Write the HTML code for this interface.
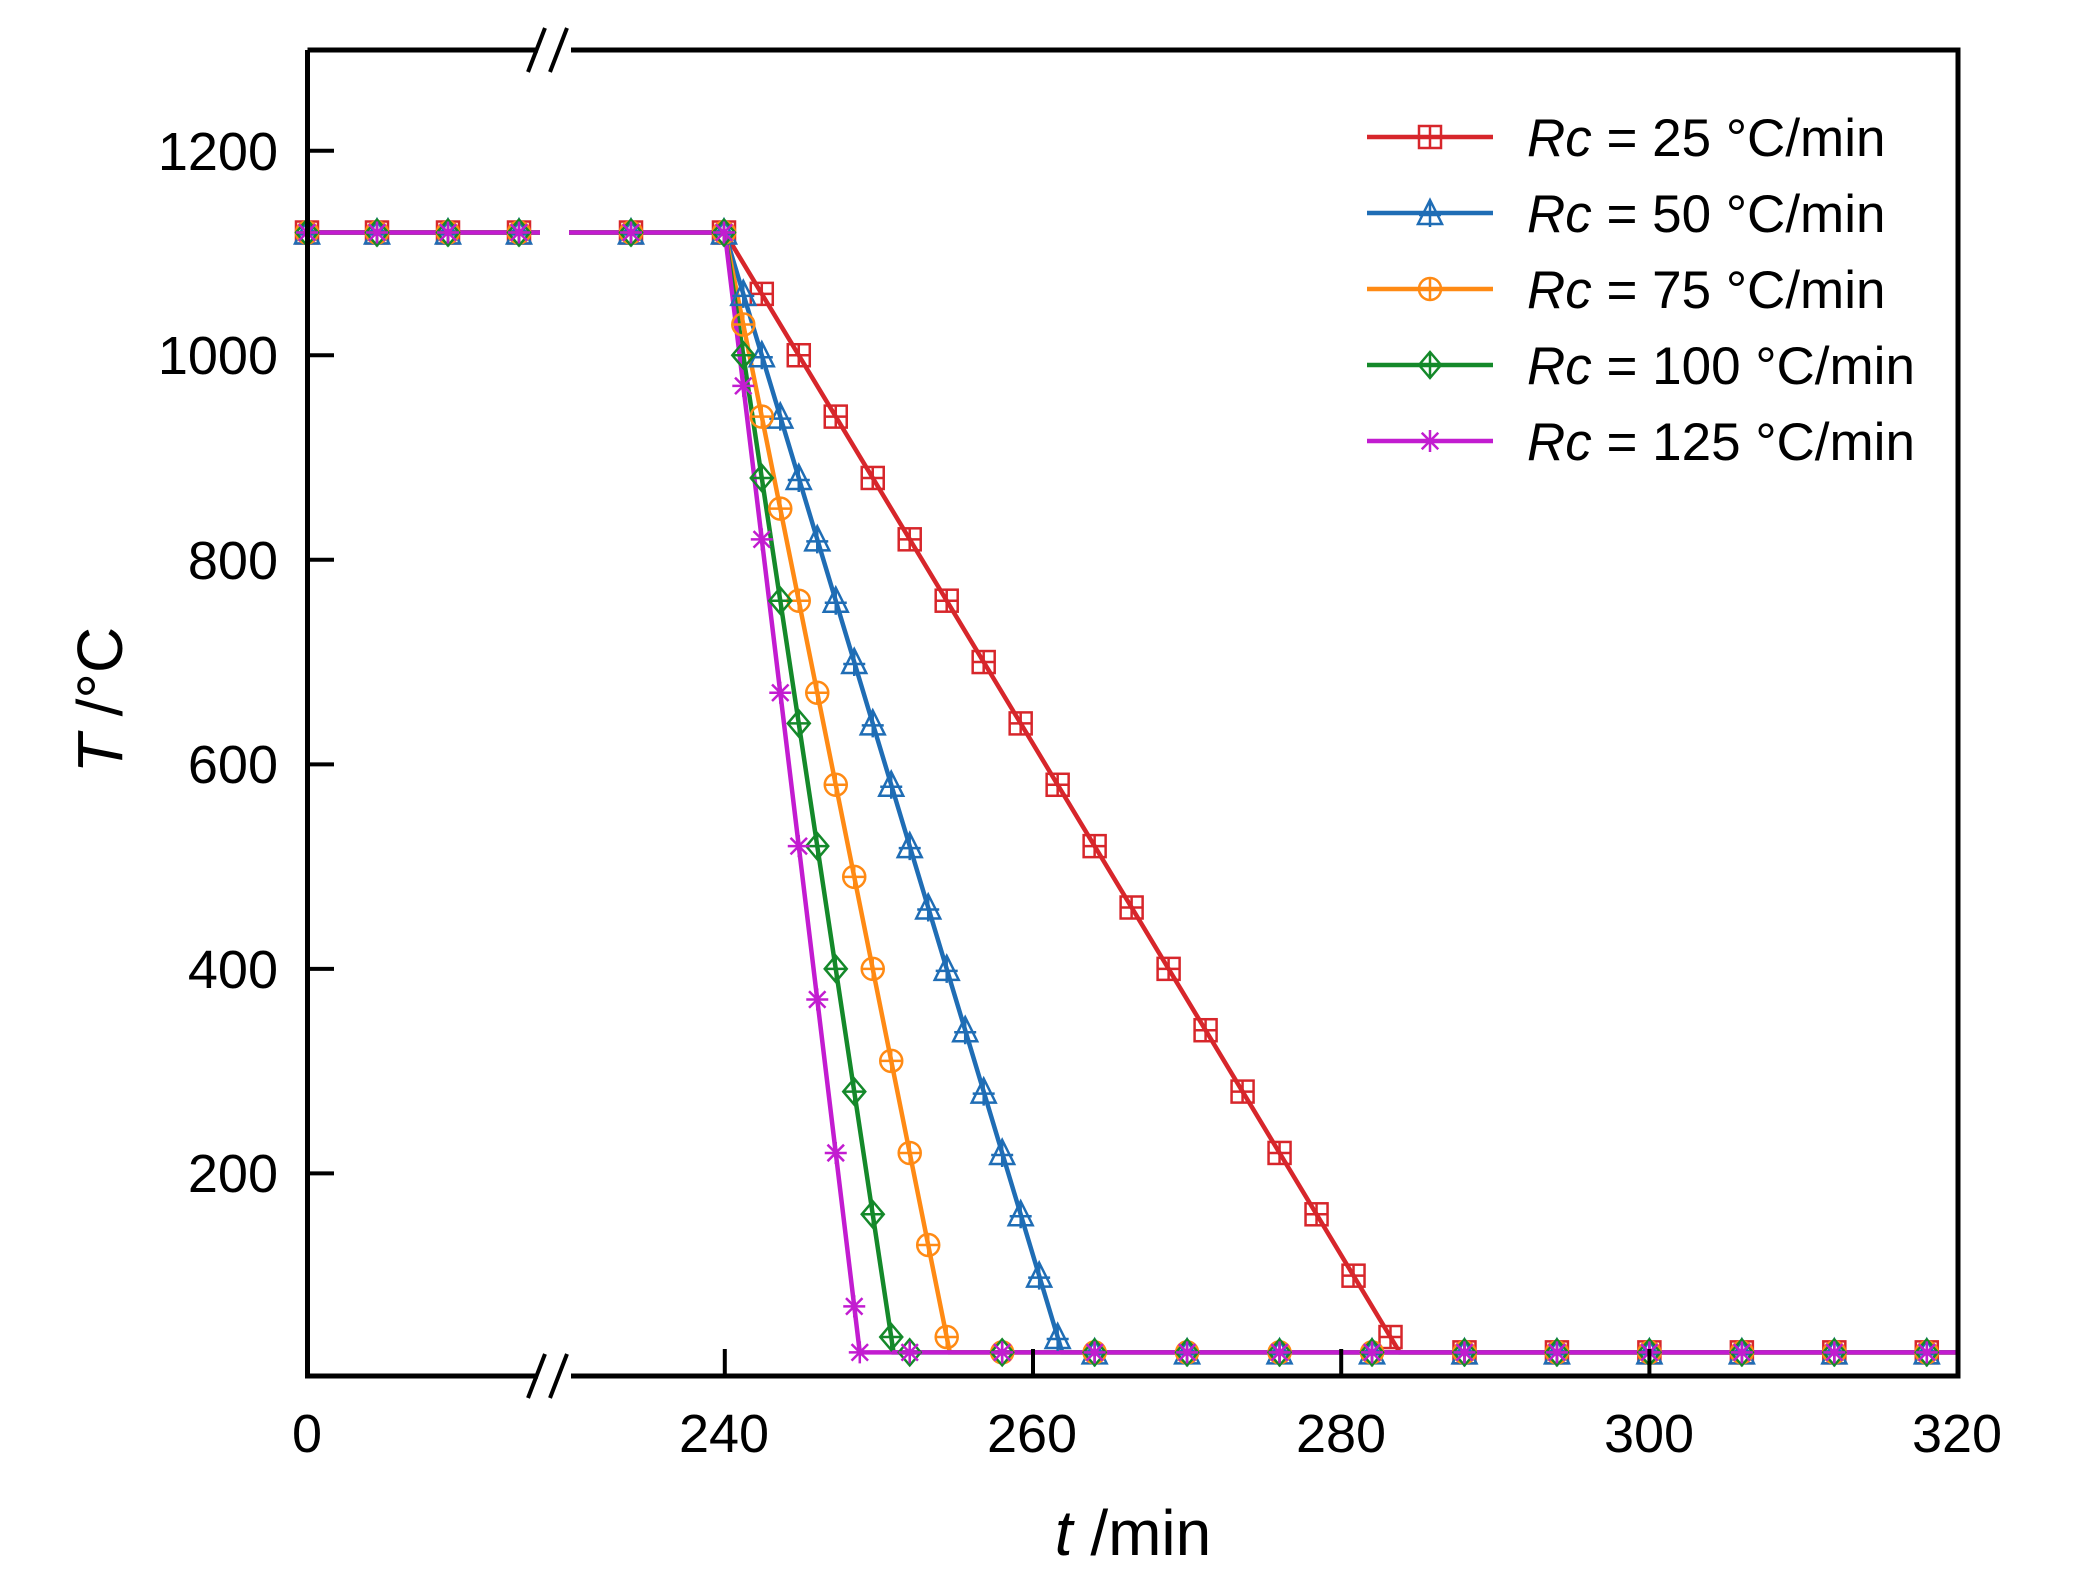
<!DOCTYPE html>
<html><head><meta charset="utf-8"><style>
html,body{margin:0;padding:0;background:#fff;}
svg{display:block;}
text{font-family:"Liberation Sans",sans-serif;fill:#000;}
</style></head><body>
<svg id="s" width="2089" height="1593" viewBox="0 0 2089 1593" xmlns="http://www.w3.org/2000/svg">
<rect width="2089" height="1593" fill="#fff"/>
<g id="data"></g>
<g stroke="#000" stroke-width="5" fill="none">
<path d="M307.5,50 V1376 H538 M571,1376 H1958 V50 H571 M538,50 H307.5"/>
</g>
<g stroke="#000" stroke-width="4">
<line x1="528" y1="72" x2="545" y2="28"/><line x1="550" y1="72" x2="567" y2="28"/>
<line x1="528" y1="1398" x2="545" y2="1354"/><line x1="550" y1="1398" x2="567" y2="1354"/>
</g>
<g id="ticks" stroke="#000" stroke-width="4"></g>
<g font-size="54" text-anchor="end">
<text x="278" y="170">1200</text><text x="278" y="374">1000</text><text x="278" y="579">800</text>
<text x="278" y="783">600</text><text x="278" y="988">400</text><text x="278" y="1192">200</text>
</g>
<g font-size="54" text-anchor="middle">
<text x="307" y="1452">0</text><text x="724" y="1452">240</text><text x="1032" y="1452">260</text>
<text x="1341" y="1452">280</text><text x="1649" y="1452">300</text><text x="1957" y="1452">320</text>
</g>
<text x="1133" y="1555" font-size="64" text-anchor="middle"><tspan font-style="italic">t</tspan> /min</text>
<text transform="translate(122,700) rotate(-90)" font-size="64" text-anchor="middle"><tspan font-style="italic">T</tspan> /°C</text>
<g id="legend" font-size="53"></g>
</svg>
<script>
const NS="http://www.w3.org/2000/svg";
function X(t){return 724.8+(t-240)*15.41;}
function Y(T){return 150.7+(1200-T)*1.0227;}
const series=[
 {R:25,c:"#d7262b",m:"sq",step:2.4},
 {R:50,c:"#1f6db5",m:"tri",step:1.2},
 {R:75,c:"#ff8a14",m:"circ",step:1.2},
 {R:100,c:"#14892a",m:"dia",step:1.2},
 {R:125,c:"#c21cd0",m:"ast",step:1.2}];
const g=document.getElementById('data');
function el(n,a,p){const e=document.createElementNS(NS,n);for(const k in a)e.setAttribute(k,a[k]);(p||g).appendChild(e);return e;}
function marker(x,y,m,c,p){const s=11;const a={stroke:c,"stroke-width":2.5,fill:"none"};
 if(m=="sq"){el("rect",Object.assign({x:x-s,y:y-s,width:2*s,height:2*s},a),p);el("path",Object.assign({d:`M${x-s},${y}H${x+s}M${x},${y-s}V${y+s}`},a),p);}
 if(m=="tri"){el("path",Object.assign({d:`M${x},${y-s-2}L${x+s+1},${y+s}H${x-s-1}Z M${x-s},${y+2}H${x+s}M${x},${y-s}V${y+s+3}`},a),p);}
 if(m=="circ"){el("circle",Object.assign({cx:x,cy:y,r:s},a),p);el("path",Object.assign({d:`M${x-s},${y}H${x+s}M${x},${y-s}V${y+s}`},a),p);}
 if(m=="dia"){el("path",Object.assign({d:`M${x},${y-s-2}L${x+s},${y}L${x},${y+s+2}L${x-s},${y}Z M${x-s},${y}H${x+s}M${x},${y-s-2}V${y+s+2}`},a),p);}
 if(m=="ast"){el("path",Object.assign({d:`M${x-s},${y}H${x+s}M${x},${y-s}V${y+s}M${x-s*.75},${y-s*.75}L${x+s*.75},${y+s*.75}M${x-s*.75},${y+s*.75}L${x+s*.75},${y-s*.75}`},a),p);}
}
const leftX=[307,377,448,519,631,724];
for(const S of series){
 const tend=240+1095/S.R;
 el("path",{d:`M307,${Y(1120)}H540M569,${Y(1120)}H724.8L${X(tend)},${Y(25)}H1958`,stroke:S.c,"stroke-width":4.5,fill:"none"});
}
for(const S of series){
 const tend=240+1095/S.R;
 for(const x of leftX) marker(x,Y(1120),S.m,S.c);
 for(let t=240+S.step;t<tend;t+=S.step) marker(X(t),Y(1120-S.R*(t-240)),S.m,S.c);
 for(let t=252;t<=318;t+=6) if(t>=tend-0.5) marker(X(t),Y(25),S.m,S.c);
 if(S.R==125) marker(X(tend),Y(25),S.m,S.c);
}
const tk=document.getElementById('ticks');
for(const T of [200,400,600,800,1000,1200]) el("line",{x1:307,x2:334,y1:Y(T),y2:Y(T)},tk);
for(const t of [240,260,280,300]) el("line",{x1:X(t),x2:X(t),y1:1376,y2:1349},tk);
const lg=document.getElementById('legend');
series.forEach((S,i)=>{const y=137+i*76;
 el("line",{x1:1367,x2:1493,y1:y,y2:y,stroke:S.c,"stroke-width":4.5},lg);
 marker(1430,y,S.m,S.c,lg);
 const t=el("text",{x:1527,y:y+19},lg);
 t.innerHTML=`<tspan font-style="italic">Rc</tspan> = ${S.R} °C/min`;
});
</script>
</body></html>
